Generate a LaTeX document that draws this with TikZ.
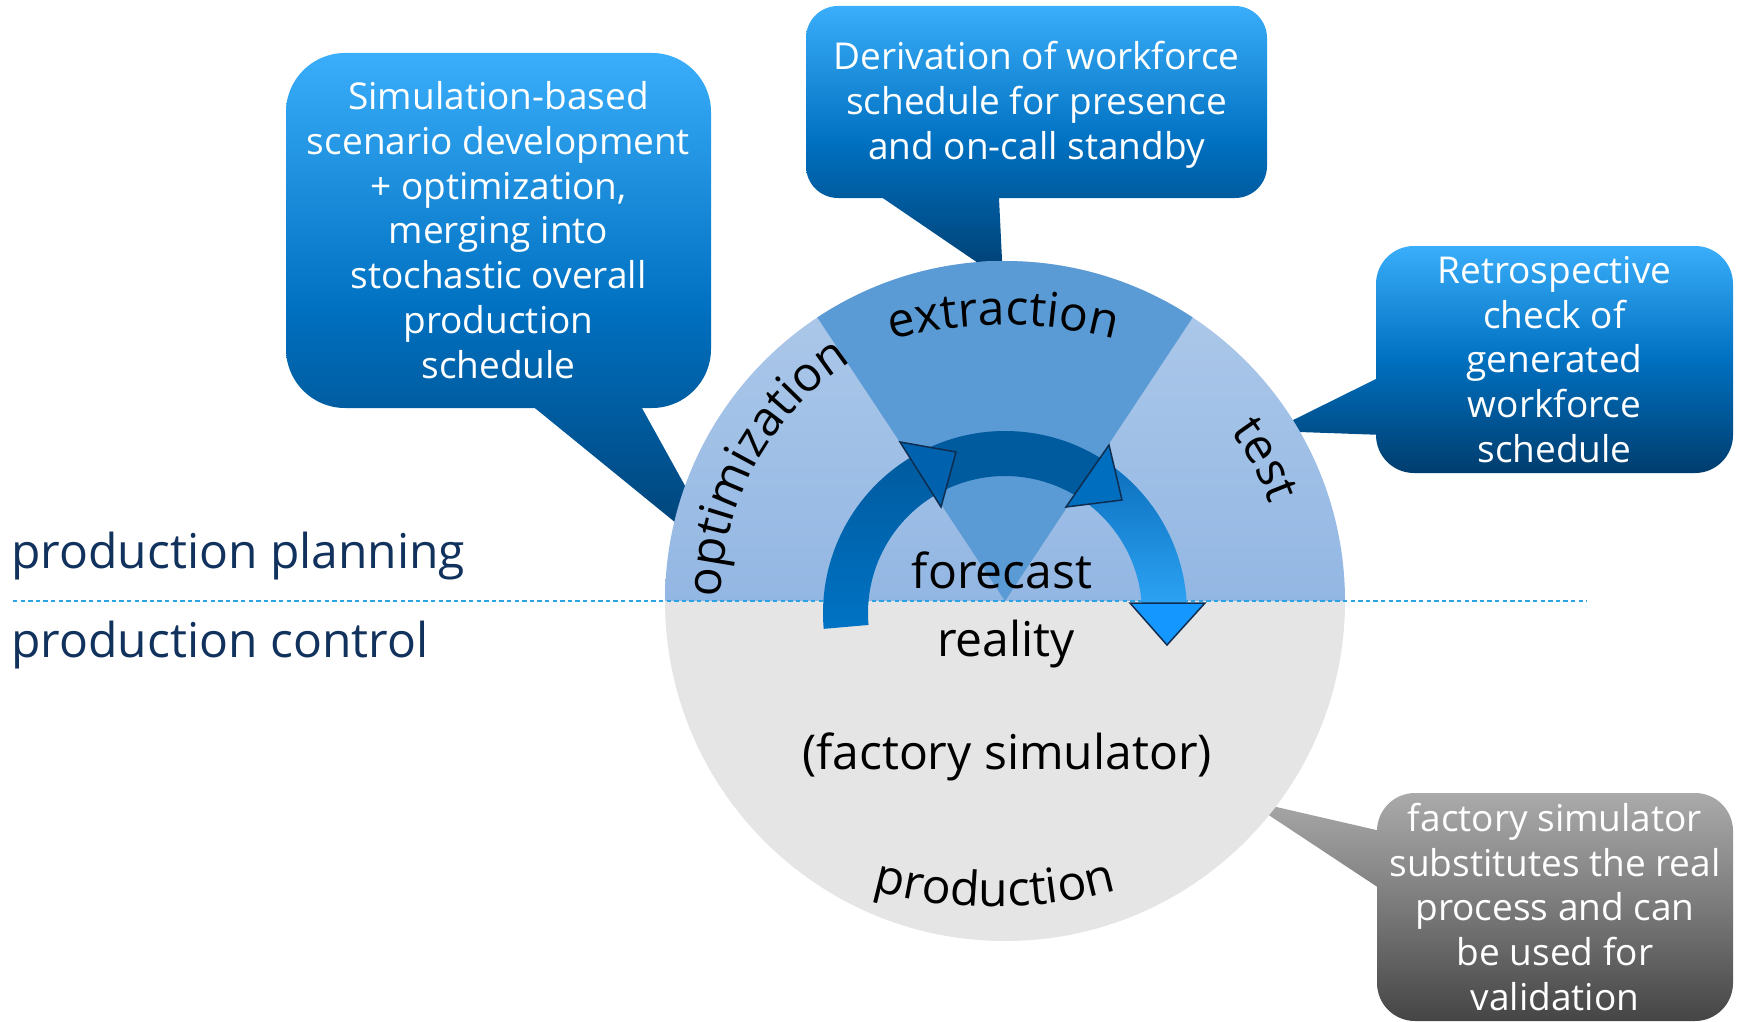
\documentclass[tikz,border=0pt]{standalone}
\usepackage{fontspec}
\setmainfont{Open Sans}
\usetikzlibrary{decorations.text}

% palette
\definecolor{upperTop}{HTML}{AFCAEA}
\definecolor{upperBot}{HTML}{93B7E3}
\definecolor{wedgeBlue}{HTML}{5B9BD5}
\definecolor{lowerGray}{HTML}{E5E5E5}
\definecolor{cTop}{HTML}{3AAEFA}
\definecolor{cMid}{HTML}{0070C0}
\definecolor{cBot}{HTML}{003D6E}
\definecolor{gTop}{HTML}{AAAAAA}
\definecolor{gMid}{HTML}{7A7A7A}
\definecolor{gBot}{HTML}{454545}
\definecolor{navyText}{HTML}{12325E}
\definecolor{dashBlue}{HTML}{2BA4E6}
\definecolor{bandLeftTop}{HTML}{005A9E}
\definecolor{bandLeftBot}{HTML}{0073C4}
\definecolor{bandMid}{HTML}{005A9E}
\definecolor{bandRightTop}{HTML}{0B6EBB}
\definecolor{bandRightBot}{HTML}{2CA2F3}
\definecolor{headOne}{HTML}{0062AF}
\definecolor{headTwo}{HTML}{006EBF}
\definecolor{headEnd}{HTML}{1497FF}
\definecolor{headLine}{HTML}{0F2D4F}

\newcommand\curvefont{\fontsize{24}{28}\selectfont}

\begin{document}
\begin{tikzpicture}[x=0.5pt,y=0.5pt,
  calloutbox/.style={top color=cTop, bottom color=cBot, middle color=cMid},
  graybox/.style={top color=gTop, bottom color=gBot, middle color=gMid},
  callouttext/.style={text=white, align=center, inner sep=0pt,
    font=\fontsize{18.5}{22.4}\selectfont},
  circlelabel/.style={font=\fontsize{24}{28}\selectfont, text=black, inner sep=0pt, anchor=base},
  sidelabel/.style={font=\fontsize{24}{28}\selectfont, text=navyText, inner sep=0pt, anchor=base west},
  arrowhead/.style={draw=headLine, line width=0.75pt, line join=miter},
  dashline/.style={draw=dashBlue, line width=0.8pt, dash pattern=on 2.2pt off 1.6pt}
]
\useasboundingbox (0,0) rectangle (1740,-1022);

% callout bubbles (their pointers run under the disc)
\shade[calloutbox]
  [rounded corners=29.5pt] (286,-230) -- (286,-408) -- (711,-408) -- (711,-53) -- (286,-53) -- cycle
  [sharp corners] (525,-400) -- (730,-567) -- (637.5,-400) -- cycle;
\shade[calloutbox]
  [rounded corners=16pt] (806,-100) -- (806,-198) -- (1267,-198) -- (1267,-6) -- (806,-6) -- cycle
  [sharp corners] (871,-190) -- (1003,-280) -- (998.6,-190) -- cycle;
\shade[calloutbox]
  [rounded corners=19pt] (1376,-360) -- (1376,-473) -- (1733,-473) -- (1733,-246) -- (1376,-246) -- cycle
  [sharp corners] (1384,-375) -- (1271,-431) -- (1384,-435) -- cycle;
\shade[graybox]
  [rounded corners=19pt] (1377,-900) -- (1377,-1021) -- (1733,-1021) -- (1733,-793) -- (1377,-793) -- cycle
  [sharp corners] (1385,-832) -- (1246,-800) -- (1385,-892) -- cycle;

% the disc: planning half, extraction sector, control half
\coordinate (dc) at (1005,-601);
\shade[top color=upperTop, bottom color=upperBot]
  ([shift={(0:340)}]dc) arc[start angle=0, end angle=180, radius=340] -- cycle;
\fill[lowerGray]
  ([shift={(180:340)}]dc) arc[start angle=180, end angle=360, radius=340] -- cycle;
\fill[wedgeBlue]
  (dc) -- ([shift={(56.5:340)}]dc) arc[start angle=56.5, end angle=123.5, radius=340] -- cycle;

% dividing line between planning and control
\coordinate (dashL) at (13,-601);
\coordinate (dashR) at (1587,-601);
\draw[dashline] (dashL) -- (dashR);

% cycle arrow: three band segments and their heads
\coordinate (ac) at (1005,-613);
\shade[top color=bandLeftTop, bottom color=bandLeftBot]
  ([shift={(185:182)}]ac) arc[start angle=185, end angle=118, radius=182]
  -- ([shift={(118:137)}]ac) arc[start angle=118, end angle=185, radius=137] -- cycle;
\fill[bandMid]
  ([shift={(118:182)}]ac) arc[start angle=118, end angle=56, radius=182]
  -- ([shift={(56:137)}]ac) arc[start angle=56, end angle=118, radius=137] -- cycle;
\shade[top color=bandRightTop, bottom color=bandRightBot]
  ([shift={(58:182)}]ac) arc[start angle=58, end angle=3.15, radius=182]
  -- ([shift={(4.19:137)}]ac) arc[start angle=4.19, end angle=58, radius=137] -- cycle;
\filldraw[arrowhead, fill=headEnd] (1130,-603) -- (1167,-645) -- (1205,-603) -- cycle;
\filldraw[arrowhead, fill=headTwo] (1109,-445) -- (1122,-500) -- (1066,-507) -- cycle;
\filldraw[arrowhead, fill=headOne] (900,-442) -- (956,-452) -- (941,-507) -- cycle;

% curved stage labels
\coordinate (exc) at (1003,-765);
\path[decorate, decoration={text along path, text={|\curvefont|extraction}, text align=center}]
  ([shift={(110:440)}]exc) arc[start angle=110, end angle=70, radius=440];
\path[decorate, decoration={text along path, text={|\curvefont|optimization}, text align=center}]
  ([shift={(195:284)}]dc) arc[start angle=195, end angle=107, radius=284];
\path[decorate, decoration={text along path, text={|\curvefont|test}, text align=center}]
  ([shift={(70:282)}]dc) arc[start angle=70, end angle=-13, radius=282];
\coordinate (prc) at (995,-457);
\path[decorate, decoration={text along path, text={|\curvefont|production}, text align=center}]
  ([shift={(250:450)}]prc) arc[start angle=250, end angle=290, radius=450];

% straight labels
\node[circlelabel] (lForecast) at (1002,-588) {forecast};
\node[circlelabel] (lReality) at (1006,-656) {reality};
\node[circlelabel] (lSim) at (1007,-769) {(factory simulator)};
\node[sidelabel] (lPlan) at (11,-568) {production planning};
\node[sidelabel] (lCtrl) at (11,-657) {production control};

% callout texts
\node[callouttext] (tSim) at (498.5,-230) {Simulation-based\\scenario development\\+ optimization,\\merging into\\stochastic overall\\production\\schedule};
\node[callouttext] (tDer) at (1036.5,-105) {Derivation of workforce\\schedule for presence\\and on-call standby};
\node[callouttext] (tRet) at (1554.5,-359.5) {Retrospective\\check of\\generated\\workforce\\schedule};
\node[callouttext] (tFac) at (1555,-907) {factory simulator\\substitutes the real\\process and can\\be used for\\validation};
\end{tikzpicture}
\end{document}
